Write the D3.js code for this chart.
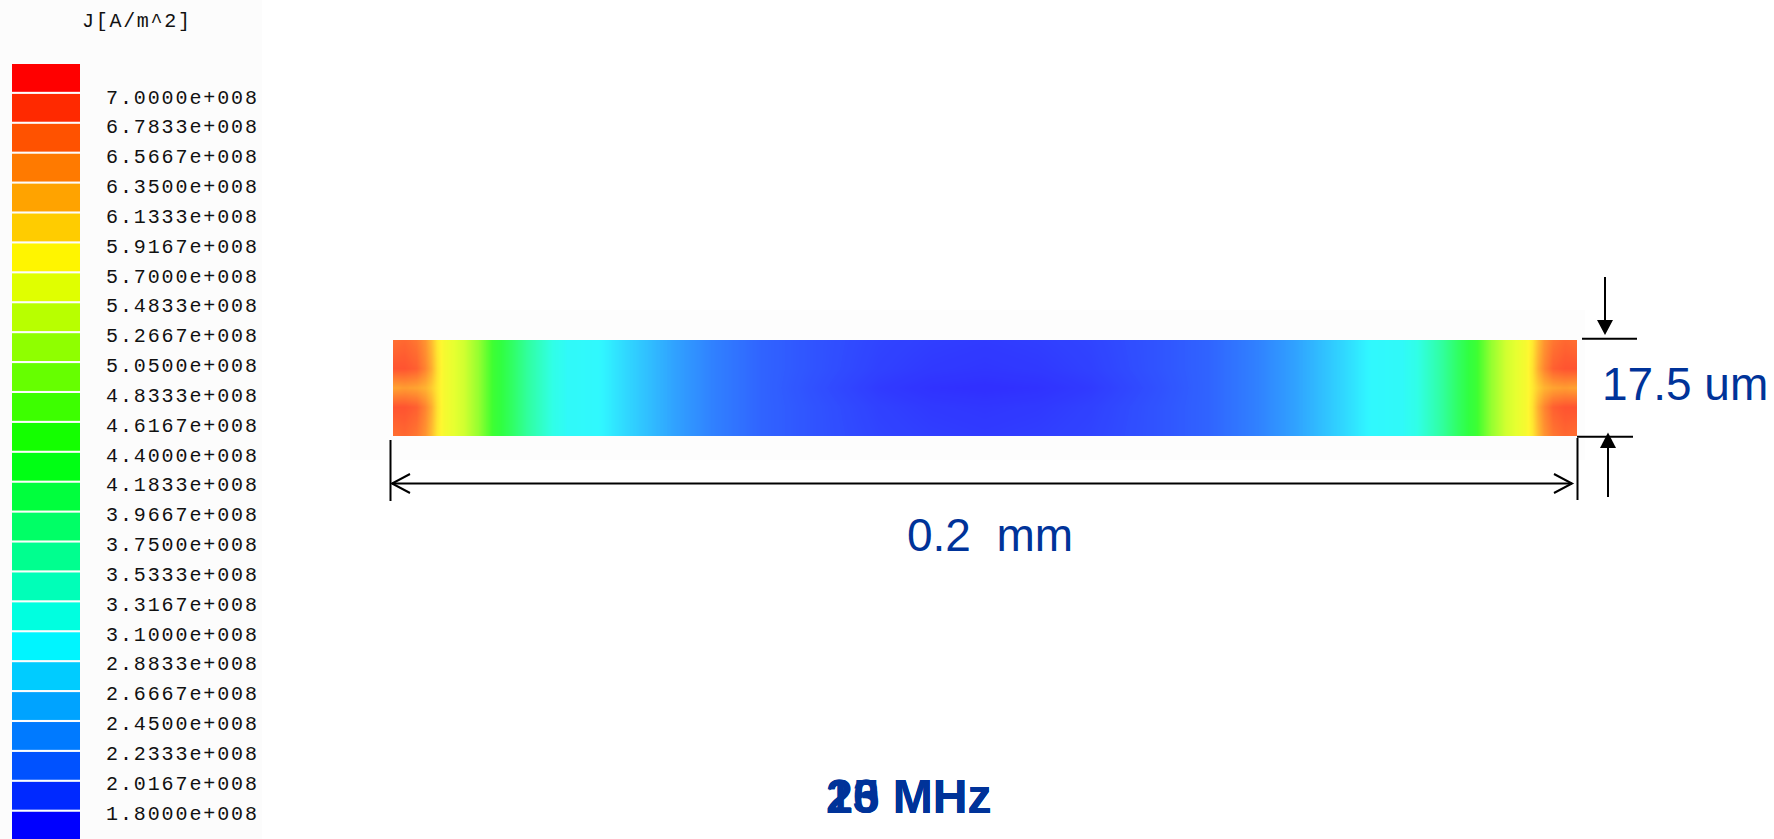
<!DOCTYPE html>
<html>
<head>
<meta charset="utf-8">
<script src="https://cdn.jsdelivr.net/npm/d3@7"></script>
<style>
  html, body { margin: 0; padding: 0; background: #ffffff; }
  svg { display: block; }
</style>
</head>
<body>
<svg id="chart" width="1774" height="839"></svg>
<script>
// Legend: colour bands (top to bottom) and the current-density labels at band boundaries
const legendTitle = "J[A/m^2]";
const bandColors = [
  "#ff0000", "#ff2900", "#ff5200", "#ff7a00", "#ffa300", "#ffcc00", "#fff500",
  "#e0ff00", "#b8ff00", "#8fff00", "#66ff00", "#3dff00", "#14ff00", "#00ff14",
  "#00ff3d", "#00ff66", "#00ff8f", "#00ffb8", "#00ffe0", "#00f5ff", "#00ccff",
  "#00a3ff", "#007aff", "#0052ff", "#0029ff", "#0000ff"
];
const tickLabels = [
  "7.0000e+008", "6.7833e+008", "6.5667e+008", "6.3500e+008", "6.1333e+008",
  "5.9167e+008", "5.7000e+008", "5.4833e+008", "5.2667e+008", "5.0500e+008",
  "4.8333e+008", "4.6167e+008", "4.4000e+008", "4.1833e+008", "3.9667e+008",
  "3.7500e+008", "3.5333e+008", "3.3167e+008", "3.1000e+008", "2.8833e+008",
  "2.6667e+008", "2.4500e+008", "2.2333e+008", "2.0167e+008", "1.8000e+008"
];

// Current density J (x 1e8 A/m^2) across the strip, sampled along its length (um)
// on the two faces, at 30 % / 70 % depth, and on the mid-thickness line
const alongUm = [
  0, 2, 4, 5.5, 6.5, 7.5, 8.5, 10, 12, 14.5, 17, 20, 23, 27, 29.5, 35, 38, 42.5, 48, 54, 62.5, 71, 82, 91,
  100,
  109, 118, 129, 137.5, 146, 152, 157.5, 162, 165, 170.5, 173, 177, 180, 183, 185.5, 188, 190, 191.5, 192.5, 193.5, 194.5, 196, 198, 200
];
const jFace = [
  6.7, 6.75, 6.65, 6.45, 6.2, 5.9, 5.75, 5.62, 5.45, 5.05, 4.45, 4.08, 3.65, 3.2, 3.05, 3.0, 2.85, 2.65, 2.42, 2.22, 2.02, 1.92, 1.82, 1.78,
  1.76,
  1.78, 1.82, 1.92, 2.02, 2.22, 2.42, 2.65, 2.85, 3.0, 3.05, 3.2, 3.65, 4.08, 4.45, 5.05, 5.45, 5.62, 5.75, 5.9, 6.2, 6.45, 6.65, 6.75, 6.7
];
const jLobe = [
  6.88, 6.88, 6.8, 6.55, 6.3, 5.95, 5.75, 5.62, 5.45, 5.05, 4.45, 4.08, 3.65, 3.2, 3.05, 3.0, 2.85, 2.65, 2.42, 2.22, 2.02, 1.92, 1.8, 1.75,
  1.73,
  1.75, 1.8, 1.92, 2.02, 2.22, 2.42, 2.65, 2.85, 3.0, 3.05, 3.2, 3.65, 4.08, 4.45, 5.05, 5.45, 5.62, 5.75, 5.95, 6.3, 6.55, 6.8, 6.88, 6.88
];
const jCore = [
  6.35, 6.4, 6.35, 6.25, 6.1, 5.9, 5.75, 5.62, 5.45, 5.05, 4.45, 4.08, 3.65, 3.2, 3.05, 3.0, 2.85, 2.65, 2.42, 2.22, 2.02, 1.9, 1.76, 1.7,
  1.68,
  1.7, 1.76, 1.9, 2.02, 2.22, 2.42, 2.65, 2.85, 3.0, 3.05, 3.2, 3.65, 4.08, 4.45, 5.05, 5.45, 5.62, 5.75, 5.9, 6.1, 6.25, 6.35, 6.4, 6.35
];
const depthFractions = [0, 0.3, 0.5, 0.7, 1];

// Strip dimensions and annotations
const stripLengthUm = 200;
const stripThicknessUm = 17.5;
const lengthLabel = "0.2  mm";
const thicknessLabel = "17.5 um";
const frequencyLabels = ["15 MHz", "20 MHz", "23 MHz"];

const svg = d3.select("#chart");
const ink = "#003399";

// faint backdrop panels
svg.append("rect").attr("x", 0).attr("y", 0).attr("width", 262).attr("height", 839).attr("fill", "#fcfcfc");
svg.append("rect").attr("x", 350).attr("y", 310).attr("width", 1235).attr("height", 150).attr("fill", "#fdfdfd");

// ---------- legend ----------
const tickValues = tickLabels.map(s => +s / 1e8);
const step = tickValues[0] - tickValues[1];
const bandCentres = bandColors.map((c, i) => tickValues[0] + step / 2 - i * step);

const bandY = d3.scaleBand()
  .domain(d3.range(bandColors.length))
  .range([64, 64 + bandColors.length * 29.83])
  .paddingInner(0.07);

svg.append("text")
  .attr("x", 82).attr("y", 27)
  .attr("font-family", "Liberation Mono, DejaVu Sans Mono, monospace")
  .attr("font-size", 20)
  .attr("textLength", 108).attr("lengthAdjust", "spacing")
  .attr("fill", "#111")
  .text(legendTitle);

svg.append("g").selectAll("rect")
  .data(bandColors)
  .join("rect")
  .attr("x", 12)
  .attr("y", (d, i) => bandY(i))
  .attr("width", 68)
  .attr("height", bandY.bandwidth())
  .attr("fill", d => d);

const labelY = d3.scaleLinear()
  .domain([tickValues[0], tickValues[tickValues.length - 1]])
  .range([97, 813]);

svg.append("g").selectAll("text")
  .data(tickLabels)
  .join("text")
  .attr("x", 106)
  .attr("y", (d, i) => labelY(tickValues[i]) + 6.5)
  .attr("font-family", "Liberation Mono, DejaVu Sans Mono, monospace")
  .attr("font-size", 20)
  .attr("textLength", 151).attr("lengthAdjust", "spacing")
  .attr("fill", "#111")
  .text(d => d);

// ---------- current density field in the strip ----------
const x = d3.scaleLinear().domain([0, stripLengthUm]).range([393, 1577]);
const y = d3.scaleLinear().domain([0, stripThicknessUm]).range([340, 436]);

const bandScale = d3.scaleLinear()
  .domain(bandCentres)
  .range(bandColors)
  .clamp(true);
// the rendered strip is lit, so its colours are washed slightly towards white
const fieldColor = v => d3.rgb(d3.interpolateRgb(bandScale(v), "#ffffff")(0.19));

const W = Math.round(x(stripLengthUm) - x(0));
const H = Math.round(y(stripThicknessUm) - y(0));
const canvas = document.createElement("canvas");
canvas.width = W; canvas.height = H;
const ctx = canvas.getContext("2d");
const img = ctx.createImageData(W, H);

// colour lookup table over the value range
const vMin = 1.5, vMax = 7.2, lutN = 1024;
const lut = d3.range(lutN).map(k => fieldColor(vMin + (vMax - vMin) * k / (lutN - 1)));

const rows = [jFace, jLobe, jCore, jLobe, jFace];
const bis = d3.bisector(d => d).right;
function along(arr, u) {
  let i = bis(alongUm, u) - 1;
  i = Math.max(0, Math.min(alongUm.length - 2, i));
  const t = (u - alongUm[i]) / (alongUm[i + 1] - alongUm[i]);
  return arr[i] + (arr[i + 1] - arr[i]) * t;
}
for (let px = 0; px < W; px++) {
  const u = x.invert(x(0) + px + 0.5);
  const colVals = rows.map(r => along(r, u));
  for (let py = 0; py < H; py++) {
    const f = y.invert(y(0) + py + 0.5) / stripThicknessUm;
    let j = 0;
    while (j < depthFractions.length - 2 && f > depthFractions[j + 1]) j++;
    const t = (f - depthFractions[j]) / (depthFractions[j + 1] - depthFractions[j]);
    const v = colVals[j] + (colVals[j + 1] - colVals[j]) * t;
    const k = Math.max(0, Math.min(lutN - 1, Math.round((v - vMin) / (vMax - vMin) * (lutN - 1))));
    const c = lut[k];
    const o = (py * W + px) * 4;
    img.data[o] = c.r; img.data[o + 1] = c.g; img.data[o + 2] = c.b; img.data[o + 3] = 255;
  }
}
ctx.putImageData(img, 0, 0);

svg.append("image")
  .attr("href", canvas.toDataURL())
  .attr("x", x(0)).attr("y", y(0))
  .attr("width", W).attr("height", H)
  .attr("preserveAspectRatio", "none");

// ---------- dimension lines ----------
const dim = svg.append("g").attr("stroke", "#000").attr("stroke-width", 2).attr("fill", "none");
const arrowY = 483.5;

// length: extension lines and double-headed open arrow
dim.append("line").attr("x1", x(0) - 2.5).attr("x2", x(0) - 2.5).attr("y1", 440).attr("y2", 501);
dim.append("line").attr("x1", x(stripLengthUm) + 0.5).attr("x2", x(stripLengthUm) + 0.5).attr("y1", 438).attr("y2", 500);
dim.append("line").attr("x1", x(0) - 1).attr("x2", x(stripLengthUm) - 5).attr("y1", arrowY).attr("y2", arrowY);
dim.append("path").attr("d", `M${x(0) + 17},${arrowY - 9.5} L${x(0) - 1},${arrowY} L${x(0) + 17},${arrowY + 9.5}`);
dim.append("path").attr("d", `M${x(stripLengthUm) - 23},${arrowY - 9.5} L${x(stripLengthUm) - 5},${arrowY} L${x(stripLengthUm) - 23},${arrowY + 9.5}`);

// thickness: extension lines and two inward filled arrows
dim.append("line").attr("x1", x(stripLengthUm) + 5).attr("x2", 1637).attr("y1", y(0) - 1.3).attr("y2", y(0) - 1.3);
dim.append("line").attr("x1", x(stripLengthUm)).attr("x2", 1633).attr("y1", y(stripThicknessUm) + 0.7).attr("y2", y(stripThicknessUm) + 0.7);
dim.append("line").attr("x1", 1605).attr("x2", 1605).attr("y1", 277).attr("y2", 322);
dim.append("line").attr("x1", 1608).attr("x2", 1608).attr("y1", 446).attr("y2", 497);
const heads = svg.append("g").attr("fill", "#000");
heads.append("path").attr("d", `M1597,320 L1613,320 L1605,${y(0) - 5} Z`);
heads.append("path").attr("d", `M1600,448 L1616,448 L1608,${y(stripThicknessUm) - 3.5} Z`);

// ---------- annotations ----------
svg.append("text")
  .attr("x", 907).attr("y", 551)
  .attr("font-family", "Liberation Sans, Arial, sans-serif")
  .attr("font-size", 46)
  .attr("fill", ink)
  .style("white-space", "pre")
  .text(lengthLabel);

svg.append("text")
  .attr("x", 1602).attr("y", 399.5)
  .attr("font-family", "Liberation Sans, Arial, sans-serif")
  .attr("font-size", 46)
  .attr("fill", ink)
  .text(thicknessLabel);

svg.append("g").selectAll("text")
  .data(frequencyLabels)
  .join("text")
  .attr("x", 826).attr("y", 813)
  .attr("font-family", "Liberation Sans, Arial, sans-serif")
  .attr("font-weight", "bold")
  .attr("font-size", 48)
  .attr("fill", ink)
  .text(d => d);
</script>
</body>
</html>
